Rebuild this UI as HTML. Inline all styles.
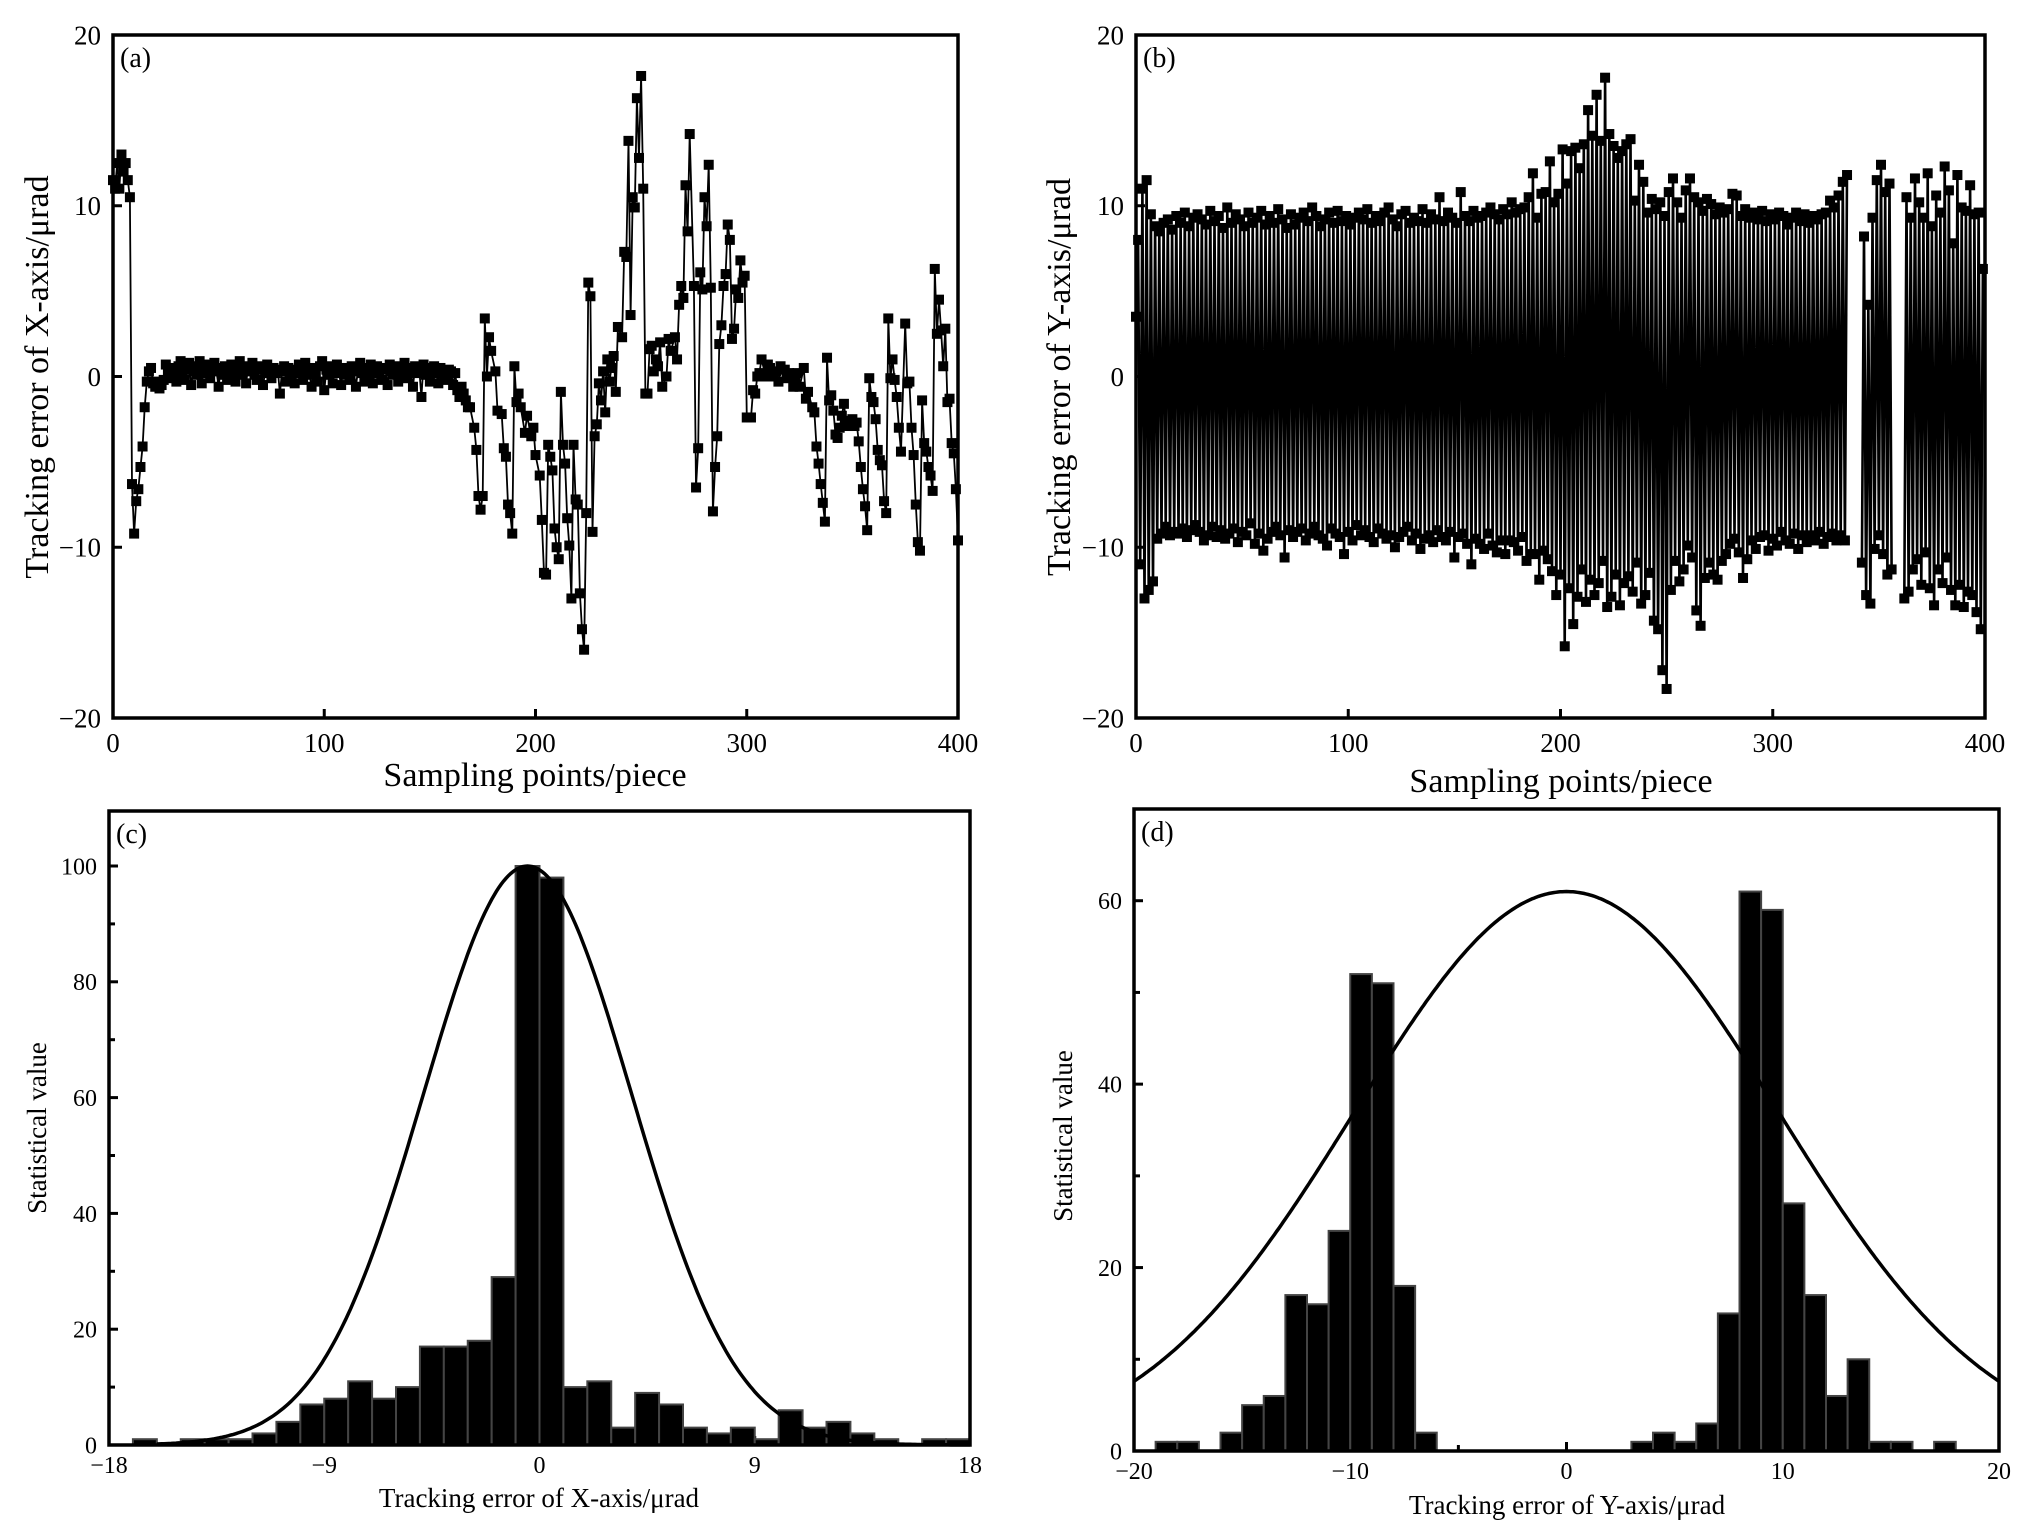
<!DOCTYPE html>
<html><head><meta charset="utf-8"><title>Tracking error charts</title>
<style>
html,body{margin:0;padding:0;background:#fff;}
svg{display:block;}
text{font-family:"Liberation Serif",serif;fill:#000;}
</style></head>
<body>
<svg id="fig" width="2036" height="1535" viewBox="0 0 2036 1535" xmlns="http://www.w3.org/2000/svg"></svg>
<script>
// ---------- Panel (a) data ----------
const aHeadY = [11.5,11,12.5,11,13,12,12.5,11.5,10.5,-6.3,-9.2,-7.3,-6.6,-5.3,-4.1,-1.8,-0.3,0.3,0.5,
-0.4,-0.6,-0.3,-0.7,-0.5,-0.2,0.7,0.3,-0.1,0.5,
0.2,-0.3,0.6,0.9,0.1,-0.2,0.4,0.8,-0.5,0.3,
0.6,0.1,0.9,-0.4,0.5,0.2,0.7,-0.1,0.4,0.8,
0.3,-0.6,0.5,0.1,0.6,-0.2,0.3,0.7,0.2,-0.3,
0.5,0.9,0.1,0.4,-0.4,0.6,0.3,0.8,0.1,-0.2,
0.4,0.6,-0.5,0.2,0.7,0.3,-0.1,0.5,0.2,0.4,
-1,0.3,0.6,-0.3,0.5,0.1,0.4,-0.4,0.2,0.7,
0.3,-0.2,0.8,0.4,0.1,-0.6,0.5,0.2,-0.3,0.6,
0.9,-0.8,0.4,0.1,0.6,-0.4,0.3,0.7,0.2,-0.5,
0.5,0.1,0.4,-0.2,0.6,0.3,-0.6,0.4,0.8,0.2,
-0.3,0.5,0.1,0.7,-0.4,0.3,0.6,0.2,-0.2,0.5,
0.4,-0.5,0.7,0.3,0.1,0.6,-0.3,0.4,0.2,0.8,
-0.1,0.5,0.3,-0.6,0.6,0.2,0.4,-1.2,0.7,0.1,
0.5,-0.3,0.3,0.6,0.2,-0.4,0.5,0.3,0.1,-0.2,
0.4,0.3,-0.5,0.2,-0.8,-1.2,-0.6,-1,-1.4,-1.8];
const aTailX = [169,171,172,173,174,175,176,177,178,179,181,182,184,185,186,187,188,189,190,191,
192,193,195,196,198,199,200,202,203,204,205,206,207,208,209,210,211,212,213,214,
215,216,217,218,219,220,221,222,223,224,225,226,227,228,229,230,231,232,233,234,
235,236,237,238,239,241,242,243,244,245,246,247,248,249,250,251,252,253,254,255,
256,257,258,259,260,262,263,264,266,267,268,269,270,271,272,273,275,276,277,278,
279,280,281,282,283,284,285,286,287,288,289,290,291,292,293,294,295,296,297,298,
299,300,302,303,304,305,306,307,309,310,311,312,314,315,316,318,319,320,322,323,
324,325,327,328,329,331,332,333,334,335,336,337,338,339,340,341,342,343,344,345,
346,347,348,350,351,352,353,354,355,356,357,358,359,360,361,362,363,364,365,366,
367,368,369,370,371,372,373,375,376,377,378,379,380,381,382,383,384,385,386,387,
388,389,390,391,392,393,394,395,396,397,398,399,400];
const aTailY = [-1.8,-3,-4.3,-7,-7.8,-7,3.4,0,2.3,1.5,0.3,-2,-2.2,-4.2,-4.7,-7.5,-8,-9.2,0.6,-1.5,
-1,-1.8,-3.3,-2.3,-3.5,-3,-4.6,-5.8,-8.4,-11.5,-11.6,-4,-4.7,-5.5,-8.9,-10,-10.7,-0.9,-4,-5.1,
-8.3,-9.9,-13,-4,-7.2,-7.5,-12.7,-14.8,-16,-8,5.5,4.7,-9.1,-3.5,-2.8,-0.4,-1.4,0.3,-2.1,1,
-0.3,0.5,1.2,-0.9,2.9,2.3,7.3,7,13.8,3.6,10.5,9.9,16.3,12.8,17.6,11,-1,-1,1.6,1.8,
0.3,1,0.6,2,-0.6,0,2.2,1.5,2.3,1,4.2,5.3,4.6,11.2,8.5,14.2,5.3,-6.5,-4.2,6.1,
5.1,10.5,8.8,12.4,5.2,-7.9,-5.3,-3.5,1.9,3,5.3,6,8.9,8,2.2,2.8,5.1,4.6,6.8,5.5,
5.9,-2.4,-2.4,-0.8,-1,0,0.2,1,0,0.7,0.5,0,0.3,-0.3,0.6,0.4,-0.1,0.2,-0.6,-0.2,
0.2,-0.6,0.5,-1.3,-0.9,-1.8,-2.1,-4.1,-5.1,-6.3,-7.4,-8.5,1.1,-1.4,-1.1,-2,-3.4,-3.6,-3,-2.3,
-1.6,-2.6,-2.9,-2.5,-2.9,-2.7,-3.8,-5.3,-6.6,-7.6,-9,-0.1,-1.2,-1.5,-2.5,-4.3,-4.9,-5.2,-7.3,-8,
3.4,-0.1,1,-0.2,-1.2,-3,-4.4,3.1,-0.4,-0.3,-3,-4.6,-7.5,-9.7,-10.2,-1.4,-3.9,-4.4,-5.3,-5.8,
-6.7,6.3,2.5,4.5,2.7,0.6,2.8,-1.5,-1.3,-3.9,-4.5,-6.6,-9.6];
const aXTicks = [0,100,200,300,400];
const aYTicks = [-20,-10,0,10,20];

// ---------- Panel (b) data ----------
const bY = [3.5,8,-11,11,-13,11.5,-12.5,9.5,-12,8.8,-9.5,8.5,-9.2,9,-8.8,9.2,-9.3,8.6,-9.1,9.4,
-9.2,9,-8.9,9.6,-9.4,8.8,-9,9.3,-8.7,9.5,-9.1,9.2,-9.6,8.9,-9.3,9.7,-8.8,9.1,-9.4,9.4,
-9,8.7,-9.5,9.9,-9.2,9,-8.9,9.5,-9.7,9.2,-9.1,8.8,-9.3,9.6,-8.6,9,-9.8,9.3,-9.2,9.7,
-10.2,8.9,-9.5,9.4,-9.1,9,-8.8,9.8,-9.3,9.2,-10.6,8.7,-9,9.5,-9.4,8.9,-9.1,9.3,-8.9,9.6,
-9.6,9.1,-9.2,9.9,-8.8,9.4,-9.3,8.8,-9.5,9.2,-9.9,9.6,-8.9,9,-9.2,9.7,-9.4,9.1,-10.4,9.4,
-9.1,8.9,-9.6,9.3,-8.7,9.6,-9.3,9.2,-9,9.8,-9.4,9,-9.7,9.4,-8.9,9.1,-9.2,9.6,-9.5,9.9,
-9.3,9.2,-10,8.8,-9.4,9.5,-9.1,9.7,-8.8,9,-9.6,9.3,-9.2,9.1,-10.1,9.8,-9.5,9,-9.3,9.5,
-9.7,9.2,-9,10.5,-9.4,9.1,-9.6,9.6,-9.1,9.3,-10.6,9,-9.4,10.8,-9.2,9.4,-9.8,9.1,-11,9.7,
-9.5,9.3,-9.8,9.4,-10.1,9.6,-9.2,9.9,-9.9,9.5,-10.3,9.2,-9.6,9.8,-10.4,9.5,-9.6,10.2,-9.7,9.6,
-10.2,9.8,-9.4,9.9,-10.8,10.5,-10.4,11.9,-10.4,9.3,-11.9,10.7,-10.2,10.8,-10.7,12.6,-11.4,10.2,-12.8,10.7,
-11.6,13.3,-15.8,11.3,-12.4,13.2,-14.5,13.4,-12.9,12.2,-11.3,13.6,-13.2,15.6,-11.9,14.1,-12.8,16.5,-12.1,13.8,
-10.8,17.5,-13.5,14.2,-12.9,13.5,-11.6,12.8,-13.4,13.2,-12.1,13.6,-11.7,13.9,-12.6,10.3,-10.9,12.4,-13.3,11.4,
-12.8,9.6,-11.5,10.4,-14.3,9.8,-14.8,10.2,-17.2,9.4,-18.3,10.8,-12.5,11.6,-10.8,10.2,-12,9.3,-11.3,10.9,
-9.9,11.6,-10.6,10.5,-13.7,10.2,-14.6,9.7,-11.8,10.4,-10.9,10.1,-11.6,9.5,-11.9,9.9,-10.8,9.6,-10.4,9.8,
-9.8,10.7,-9.5,10.6,-10.3,9.4,-11.8,9.8,-10.7,9.3,-9.6,9.6,-10.1,9.2,-9.4,9.7,-9.3,9.1,-10.2,9.5,
-9.5,9.2,-9.9,9.6,-9.1,9.4,-9.6,8.9,-9.8,9.3,-9.2,9.6,-10.1,9.1,-9.3,9.5,-9.7,9,-9.3,9.4,
-9.6,9.2,-9.1,9.5,-9.8,9.6,-9.4,10.3,-9.2,9.9,-9.6,10.6,-9.3,11.4,-9.6,11.8,
null,null,null,null,null,null,
-10.9,8.2,-12.8,4.2,-13.3,9.3,-10.1,11.5,-9.3,12.4,-10.4,10.8,-11.6,11.3,-11.3,
null,null,null,null,null,
-13,10.5,-12.6,9.3,-11.3,11.6,-10.7,10.2,-12.2,9.3,-10.3,11.9,-12.4,8.8,-13.4,10.6,-11.3,9.6,-12.1,12.3,
-10.6,10.9,-12.5,7.8,-13.4,11.8,-12.2,9.9,-13.5,9.7,-12.6,11.2,-12.8,9.5,-13.8,9.6,-14.8,6.3];
const bXTicks = [0,100,200,300,400];
const bYTicks = [-20,-10,0,10,20];

// ---------- Panel (c) data ----------
const cBinStart = [-17,-16,-15,-14,-13,-12,-11,-10,-9,-8,-7,-6,-5,-4,-3,-2,-1,0,1,2,3,4,5,6,7,8,9,10,11,12,13,14,15,16,17];
const cCounts   = [1,0,1,1,1,2,4,7,8,11,8,10,17,17,18,29,100,98,10,11,3,9,7,3,2,3,1,6,3,4,2,1,0,1,1];
const cFitPeak = 100, cFitMean = -0.5, cFitSigma = 4.35;
const cXTicks = [-18,-9,0,9,18];
const cYTicks = [0,20,40,60,80,100];

// ---------- Panel (d) data ----------
const dBinStart = [-19,-18,-17,-16,-15,-14,-13,-12,-11,-10,-9,-8,-7,3,4,5,6,7,8,9,10,11,12,13,14,15,16,17];
const dCounts   = [1,1,0,2,5,6,17,16,24,52,51,18,2,1,2,1,3,15,61,59,27,17,6,10,1,1,0,1];
const dFitPeak = 61, dFitMean = 0, dFitSigma = 9.8;
const dXTicks = [-20,-10,0,10,20];
const dYTicks = [0,20,40,60];

const NS = "http://www.w3.org/2000/svg";
const svg = document.getElementById('fig');
function el(tag, attrs, parent){
  const e = document.createElementNS(NS, tag);
  for (const k in attrs) e.setAttribute(k, attrs[k]);
  (parent || svg).appendChild(e);
  return e;
}
function scale(d0,d1,r0,r1){ return v => r0 + (v-d0)/(d1-d0)*(r1-r0); }
function fmt(v){ return v<0 ? '\u2212'+Math.abs(v) : String(v); }

function panel(cfg){
  const g = el('g', {});
  
  
  const x = scale(cfg.xd[0], cfg.xd[1], cfg.L, cfg.R);
  const y = scale(cfg.yd[0], cfg.yd[1], cfg.B, cfg.T);
  cfg.xTicks.forEach(t => {
    const tk = el('line', {x1:x(t), x2:x(t), y1:cfg.B, y2:cfg.B-9, stroke:'#000','stroke-width':3}, g);
    
    
    const tl = el('text', {x:x(t), y:cfg.B+cfg.xlOff, 'font-size':cfg.tfs, 'text-anchor':'middle'}, g);
    tl.textContent = fmt(t);
    
    
  });
  (cfg.xMinor||[]).forEach(t => {
    el('line', {x1:x(t), x2:x(t), y1:cfg.B, y2:cfg.B-6, stroke:'#000','stroke-width':3}, g);
  });
  cfg.yTicks.forEach(t => {
    const tk = el('line', {x1:cfg.L, x2:cfg.L+9, y1:y(t), y2:y(t), stroke:'#000','stroke-width':3}, g);
    
    
    const tl = el('text', {x:cfg.L-cfg.ylOff, y:y(t)+cfg.tfs*0.35, 'font-size':cfg.tfs, 'text-anchor':'end'}, g);
    tl.textContent = fmt(t);
    
    
  });
  (cfg.yMinor||[]).forEach(t => {
    el('line', {x1:cfg.L, x2:cfg.L+6, y1:y(t), y2:y(t), stroke:'#000','stroke-width':3}, g);
  });
  const xt = el('text', {x:cfg.xtX, y:cfg.xtY, 'font-size':cfg.afs, 'text-anchor':'middle'}, g);
  xt.textContent = cfg.xTitle;
  
  
  const yt = el('text', {x:0, y:0, 'font-size':cfg.yafs||cfg.afs, 'text-anchor':'middle', transform:`translate(${cfg.ytX},${cfg.ytY}) rotate(-90)`}, g);
  yt.textContent = cfg.yTitle;
  
  
  const pl = el('text', {x:cfg.L+7, y:cfg.T+32, 'font-size':28}, g);
  pl.textContent = cfg.label;
  
  
  return {g, x, y};
}

function frame(g, cfg){
  const f = el('rect', {x:cfg.L, y:cfg.T, width:cfg.R-cfg.L, height:cfg.B-cfg.T, fill:'none', stroke:'#000','stroke-width':3.5}, g);
  
  
}

function series(g, x, y, xs, ys, name, lw){
  const sg = el('g', {}, g);
  
  
  let d = '', pen = false;
  for (let i=0;i<xs.length;i++){
    if (ys[i] === null){ pen = false; continue; }
    d += (pen ? 'L' : 'M') + x(xs[i]).toFixed(1) + ' ' + y(ys[i]).toFixed(1);
    pen = true;
  }
  el('path', {d, fill:'none', stroke:'#000', 'stroke-width':lw}, sg);
  for (let i=0;i<xs.length;i++){
    if (ys[i] === null) continue;
    const m = el('rect', {x:x(xs[i])-5, y:y(ys[i])-5, width:10, height:10, fill:'#000'}, sg);
    
    
  }
}

function hist(g, x, y, starts, counts, peak, mu, sig, xd){
  const hg = el('g', {}, g);
  
  
  starts.forEach((s,i) => {
    if (!counts[i]) return;
    const b = el('rect', {x:x(s), y:y(counts[i]), width:x(s+1)-x(s), height:y(0)-y(counts[i]), fill:'#000', stroke:'#444', 'stroke-width':2}, hg);
    
    
  });
  let d = '';
  for (let v = xd[0]; v <= xd[1] + 1e-9; v += 0.1){
    const c = peak*Math.exp(-((v-mu)*(v-mu))/(2*sig*sig));
    d += (d ? 'L' : 'M') + x(v).toFixed(1) + ' ' + y(c).toFixed(1);
  }
  const p = el('path', {d, fill:'none', stroke:'#000', 'stroke-width':3.5}, g);
  
  
}

// Panel (a)
const cfgA = {name:'panel-a-x-error', L:113, R:958, T:35, B:718, xd:[0,400], yd:[-20,20],
  xTicks:aXTicks, yTicks:aYTicks, tfs:27, afs:34, xlOff:34, ylOff:12,
  xTitle:'Sampling points/piece', xtX:535, xtY:786, yTitle:'Tracking error of X-axis/\u03bcrad', ytX:48, ytY:377, label:'(a)'};
const A = panel(cfgA);
const aXs = aHeadY.map((v,i)=>i).concat(aTailX);
const aYs = aHeadY.concat(aTailY);
series(A.g, A.x, A.y, aXs, aYs, 'x-error-series', 1.8);
frame(A.g, cfgA);

// Panel (b)
const cfgB = {name:'panel-b-y-error', L:1136, R:1985, T:35, B:718, xd:[0,400], yd:[-20,20],
  xTicks:bXTicks, yTicks:bYTicks, tfs:27, afs:34, xlOff:34, ylOff:12,
  xTitle:'Sampling points/piece', xtX:1561, xtY:792, yTitle:'Tracking error of Y-axis/\u03bcrad', ytX:1070, ytY:377, label:'(b)'};
const Bp = panel(cfgB);
series(Bp.g, Bp.x, Bp.y, bY.map((v,i)=>i), bY, 'y-error-series', 2.6);
frame(Bp.g, cfgB);

// Panel (c)
const cfgC = {name:'panel-c-x-histogram', L:109, R:970, T:811, B:1445, xd:[-18,18], yd:[0,109.5],
  xTicks:cXTicks, yTicks:cYTicks, yMinor:[10,30,50,70,90], xMinor:[-13.5,-4.5,4.5,13.5], tfs:24, afs:27, yafs:27, xlOff:28, ylOff:12,
  xTitle:'Tracking error of X-axis/\u03bcrad', xtX:539, xtY:1507, yTitle:'Statistical value', ytX:46, ytY:1128, label:'(c)'};
const C = panel(cfgC);
hist(C.g, C.x, C.y, cBinStart, cCounts, cFitPeak, cFitMean, cFitSigma, [-16,18]);
frame(C.g, cfgC);

// Panel (d)
const cfgD = {name:'panel-d-y-histogram', L:1134, R:1999, T:809, B:1451, xd:[-20,20], yd:[0,70],
  xTicks:dXTicks, yTicks:dYTicks, yMinor:[10,30,50], xMinor:[-15,-5,5,15], tfs:24, afs:27, yafs:27, xlOff:28, ylOff:12,
  xTitle:'Tracking error of Y-axis/\u03bcrad', xtX:1567, xtY:1514, yTitle:'Statistical value', ytX:1072, ytY:1136, label:'(d)'};
const D = panel(cfgD);
hist(D.g, D.x, D.y, dBinStart, dCounts, dFitPeak, dFitMean, dFitSigma, [-20,20]);
frame(D.g, cfgD);
</script>
</body></html>
